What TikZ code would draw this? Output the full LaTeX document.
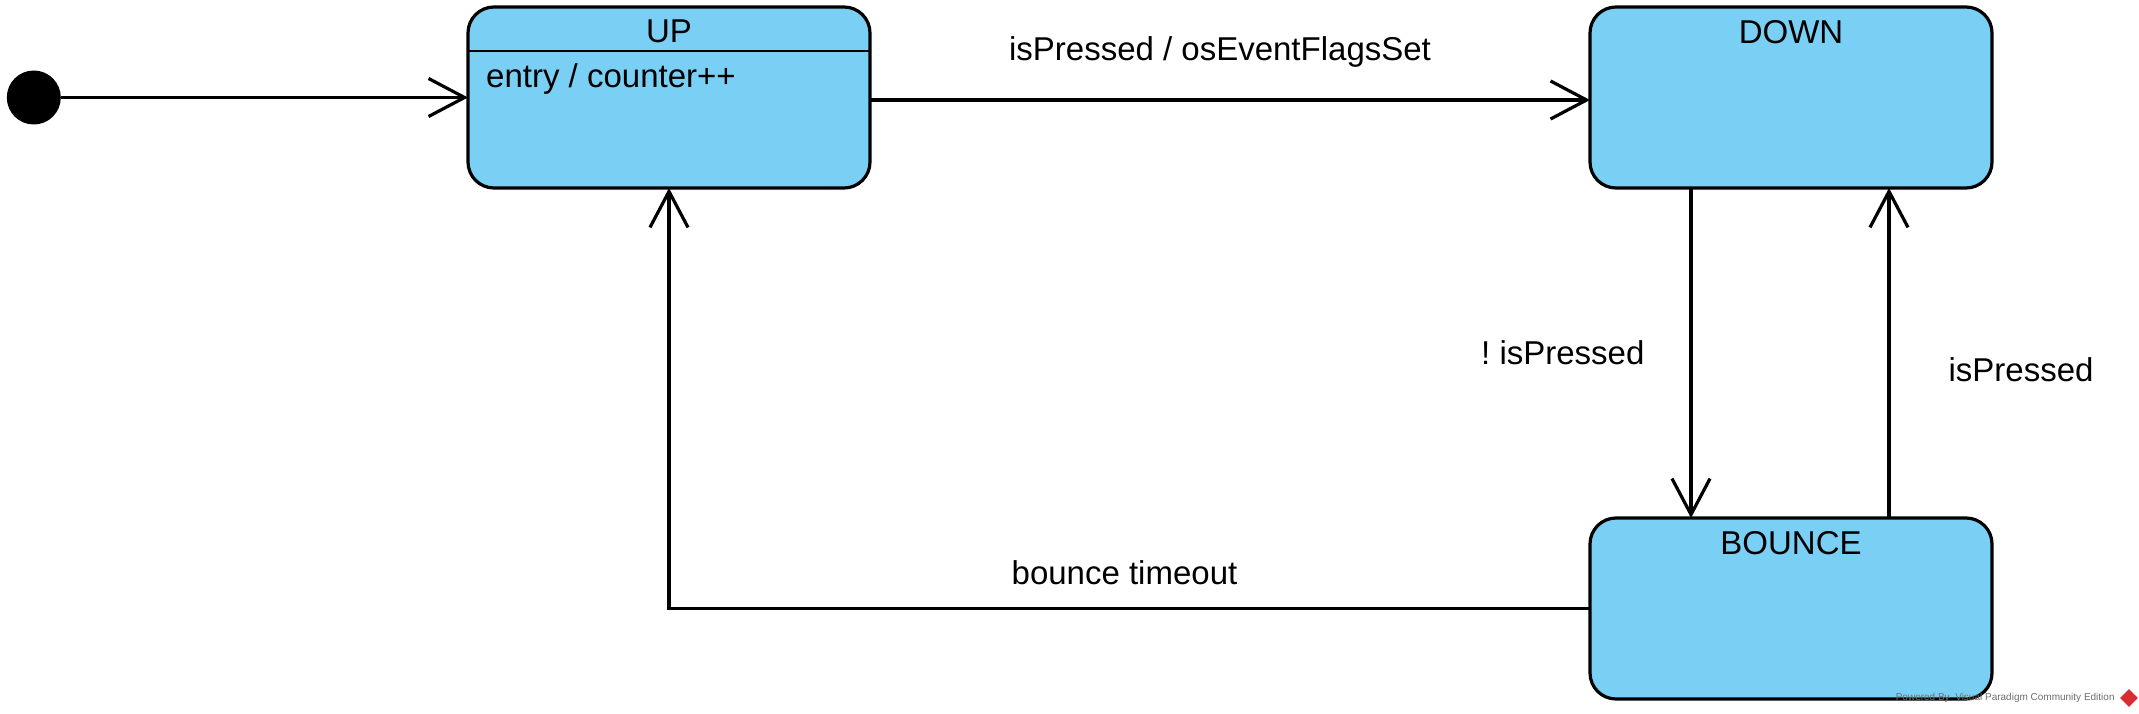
\documentclass[tikz,border=0pt]{standalone}
\usepackage{fontspec}
\setmainfont{Liberation Sans}
\usepackage{tikz}
\usetikzlibrary{positioning,arrows.meta,shapes.geometric}
\definecolor{stateblue}{RGB}{122,207,244}
\definecolor{markgray}{RGB}{110,110,110}
\definecolor{markred}{RGB}{215,45,50}
\frenchspacing

\begin{document}
\begin{tikzpicture}[
	font=\fontsize{33pt}{40pt}\selectfont,
	state/.style={draw, fill=stateblue, line width=3.2pt, rounded corners=26pt,
		minimum width=402pt, minimum height=181pt, outer sep=0pt},
	statename/.style={inner sep=0pt},
	trans/.style={line width=3.2pt, -{Straight Barb[length=36pt,width=38pt]}},
	]
	
	\useasboundingbox (0,0) rectangle (2139pt,-714pt);
	
	\node[state] (U) at (669pt,-97.5pt) {};
	\node[statename, below=13pt of U.north] (Uname) {UP};
	\draw[line width=2.4pt]
	([yshift=-44pt]U.north west) -- ([yshift=-44pt]U.north east);
	\node[statename, below right=56pt and 18pt of U.north west] (Uentry)
	{entry / counter++};
	
	\node[state, right=720pt of U] (D) {};
	\node[statename, below=13pt of D.north] (Dname) {DOWN};
	
	\node[state, below=330pt of D] (B) {};
	\node[statename, below=13pt of B.north] (Bname) {BOUNCE};
	
	\node[
	circle,
	fill=black,
	minimum size=54pt,
	inner sep=0pt,
	left=407pt of U
	] (S) {};
	
	\draw[trans] (S) -- (U);
	
	\draw[trans]
	([yshift=-2.5pt]U.east) -- node[above=31pt, inner sep=0pt, xshift=-10pt]
	{isPressed / osEventFlagsSet} ([yshift=-2.5pt]D.west);
	
	\draw[trans]
	([xshift=-100pt]D.south) -- node[left=45pt, inner sep=0pt]
	{! isPressed} ([xshift=-100pt]B.north);
	
	\draw[trans]
	([xshift=98pt]B.north) -- node[right=58pt, inner sep=0pt, pos=0.45]
	{isPressed} ([xshift=98pt]D.south);
	
	\draw[trans]
	(B) -| node[above=22pt, inner sep=0pt, pos=0.25, xshift=-5pt]
	{bounce timeout} (U);
	
	% watermark
	\node[
	diamond,
	fill=markred,
	minimum size=18pt,
	inner sep=0pt
	] (VP) at (2129pt,-698pt) {};
	\node[
	left=5pt of VP,
	inner sep=0pt,
	text=markgray,
	font=\fontsize{10pt}{12pt}\selectfont
	] (PB) {Powered By\ \ Visual Paradigm Community Edition};
	
\end{tikzpicture}
\end{document}
